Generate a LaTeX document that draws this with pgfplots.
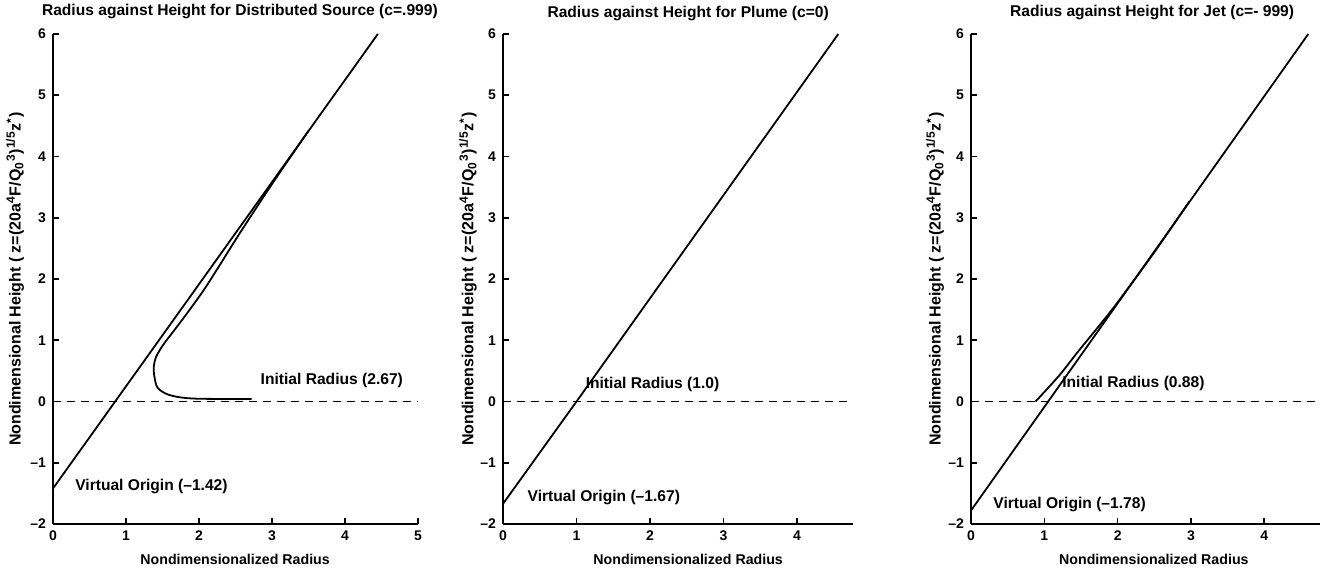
\documentclass[border=0pt]{standalone}
\usepackage{pgfplots}
\pgfplotsset{compat=1.18}
\usepackage{fontspec}
\setmainfont{Liberation Sans}

\begin{document}
\begin{tikzpicture}
\useasboundingbox (0,0) rectangle (660pt,285.5pt);
\tikzset{note/.style={font=\bfseries\fontsize{7.8}{9}\selectfont, anchor=west, inner sep=0pt}}
\pgfplotsset{
  every axis title shift=0pt,
  panel/.style={
    scale only axis, anchor=south west,
    height=245pt,
    ymin=-2, ymax=6,
    xmin=0,
    axis x line*=bottom, axis y line*=left,
    axis line style={line width=0.9pt},
    major tick style={line width=0.8pt, black},
    major tick length=3pt,
    tick align=inside,
    ytick={-2,...,6},
    yticklabels={--2,--1,0,1,2,3,4,5,6},
    /pgf/number format/assume math mode=true,
    tick label style={font=\bfseries\fontsize{7}{8}\selectfont},
    xlabel style={font=\bfseries\fontsize{7.1}{8}\selectfont},
    ylabel style={font=\bfseries\fontsize{8}{9}\selectfont},
    title style={font=\bfseries\fontsize{7.8}{9}\selectfont, anchor=center},
    xlabel={Nondimensionalized Radius},
    ylabel={Nondimensional Height ( z=(20a\textsuperscript{4}F/Q\textsubscript{0}\textsuperscript{3})\textsuperscript{1/5}z\textsuperscript{*})},
    clip=false,
  },
  curve/.style={black, line width=0.9pt, no markers},
  zero/.style={black, line width=0.9pt, dash pattern=on 4pt off 3pt},
}

% Panel 1
\begin{axis}[panel, at={(26.5pt,23.5pt)}, width=182.5pt, xmax=5, xtick={0,...,5},
  title={Radius against Height for Distributed Source (c=.999)},
  title style={at={(axis description cs:0.512,1.045)}},
  xlabel style={at={(axis description cs:0.499,-0.073)}, anchor=center},
  ylabel style={at={(axis description cs:-0.104,0.5)}, anchor=center}]
\addplot[zero] coordinates {(0,0) (5,0)};
\addplot[curve] coordinates {(0,-1.42) (4.45,6)};
\addplot[curve, smooth] coordinates {(2.72,0.04) (2.0,0.045) (1.73,0.07) (1.55,0.125) (1.43,0.23) (1.39,0.40) (1.38,0.56) (1.41,0.72) (1.50,0.91) (1.64,1.13) (1.83,1.43) (2.06,1.81) (2.27,2.2) (2.56,2.75) (3.0,3.55) (3.50,4.42)};
\node[note] at (axis cs:2.84,0.34) {Initial Radius (2.67)};
\node[note] at (axis cs:0.3,-1.38) {Virtual Origin (--1.42)};
\end{axis}

% Panel 2
\begin{axis}[panel, at={(251.5pt,23.5pt)}, width=175pt, xmax=4.76, xtick={0,...,4},
  title={Radius against Height for Plume (c=0)},
  title style={at={(axis description cs:0.529,1.041)}},
  xlabel style={at={(axis description cs:0.529,-0.073)}, anchor=center},
  ylabel style={at={(axis description cs:-0.1,0.5)}, anchor=center}]
\addplot[zero] coordinates {(0,0) (4.76,0)};
\addplot[curve] coordinates {(0,-1.67) (1.0,0) (4.56,6)};
\node[note] at (axis cs:1.12,0.28) {Initial Radius (1.0)};
\node[note] at (axis cs:0.33,-1.57) {Virtual Origin (--1.67)};
\end{axis}

% Panel 3
\begin{axis}[panel, at={(485.5pt,23.5pt)}, width=174.5pt, xmax=4.76, xtick={0,...,4},
  title={Radius against Height for Jet (c=- 999)},
  title style={at={(axis description cs:0.519,1.043)}},
  xlabel style={at={(axis description cs:0.524,-0.073)}, anchor=center},
  ylabel style={at={(axis description cs:-0.103,0.5)}, anchor=center}]
\addplot[zero] coordinates {(0,0) (4.76,0)};
\addplot[curve] coordinates {(0,-1.78) (4.6,6)};
\addplot[curve, smooth] coordinates {(0.88,0) (1.2,0.42) (1.45,0.8) (1.75,1.24) (2.0,1.62) (2.49,2.42) (2.98,3.27)};
\node[note] at (axis cs:1.24,0.3) {Initial Radius (0.88)};
\node[note] at (axis cs:0.3,-1.68) {Virtual Origin (--1.78)};
\end{axis}
\end{tikzpicture}
\end{document}
